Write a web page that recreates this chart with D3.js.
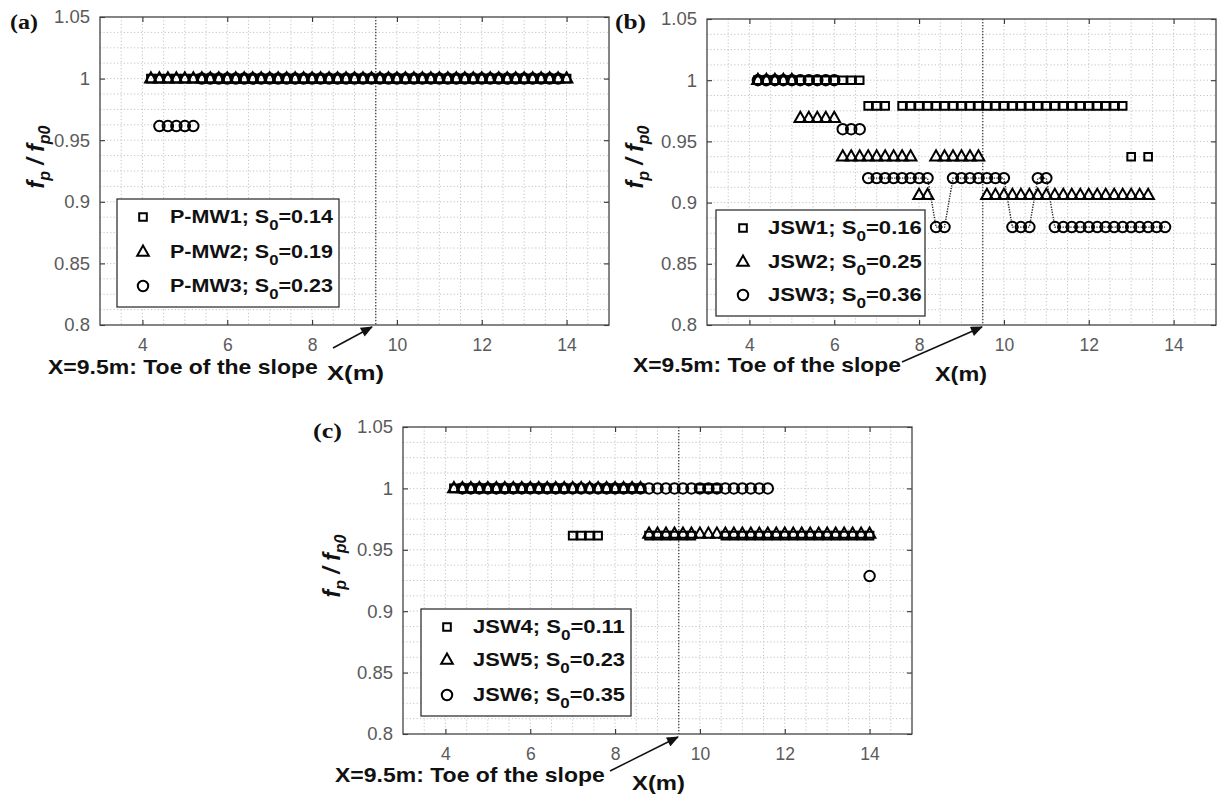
<!DOCTYPE html>
<html><head><meta charset="utf-8">
<script src="https://cdn.jsdelivr.net/npm/d3@7"></script>
<style>body{margin:0;background:#fff}svg text{font-family:"Liberation Sans",Arial,sans-serif}</style>
</head><body><svg id="c" width="1221" height="798"></svg>
<script>
// ---------- shared axis data ----------
const xTicks=[4,6,8,10,12,14];
const xTickLabels=["4","6","8","10","12","14"];
const yTicks=[0.8,0.85,0.9,0.95,1,1.05];
const yTickLabels=["0.8","0.85","0.9","0.95","1","1.05"];
const xDomain=[3,15];
const yDomain=[0.8,1.05];
const toeX=9.5;
const toeText="X=9.5m: Toe of the slope";
const xLabel="X(m)";

// ---------- panel (a) ----------
const pmw1X=[4.2,4.4,4.6,4.8,5,5.2,5.4,5.6,5.8,6,6.2,6.4,6.6,6.8,7,7.2,7.4,7.6,7.8,8,8.2,8.4,8.6,8.8,9,9.2,9.4,9.6,9.8,10,10.2,10.4,10.6,10.8,11,11.2,11.4,11.6,11.8,12,12.2,12.4,12.6,12.8,13,13.2,13.4,13.6,13.8,14];
const pmw1Y=[1,1,1,1,1,1,1,1,1,1,1,1,1,1,1,1,1,1,1,1,1,1,1,1,1,1,1,1,1,1,1,1,1,1,1,1,1,1,1,1,1,1,1,1,1,1,1,1,1,1];
const pmw2X=[4.2,4.4,4.6,4.8,5,5.2,5.4,5.6,5.8,6,6.2,6.4,6.6,6.8,7,7.2,7.4,7.6,7.8,8,8.2,8.4,8.6,8.8,9,9.2,9.4,9.6,9.8,10,10.2,10.4,10.6,10.8,11,11.2,11.4,11.6,11.8,12,12.2,12.4,12.6,12.8,13,13.2,13.4,13.6,13.8,14];
const pmw2Y=[1,1,1,1,1,1,1,1,1,1,1,1,1,1,1,1,1,1,1,1,1,1,1,1,1,1,1,1,1,1,1,1,1,1,1,1,1,1,1,1,1,1,1,1,1,1,1,1,1,1];
const pmw3X=[4.4,4.6,4.8,5,5.2,5.4,5.6,5.8,6,6.2,6.4,6.6,6.8,7,7.2,7.4,7.6,7.8,8,8.2,8.4,8.6,8.8,9,9.2,9.4,9.6,9.8,10,10.2,10.4,10.6,10.8,11,11.2,11.4,11.6,11.8,12,12.2,12.4,12.6,12.8,13,13.2,13.4,13.6,13.8];
const pmw3Y=[0.9615,0.9615,0.9615,0.9615,0.9615,1,1,1,1,1,1,1,1,1,1,1,1,1,1,1,1,1,1,1,1,1,1,1,1,1,1,1,1,1,1,1,1,1,1,1,1,1,1,1,1,1,1,1];
const namesA=["P-MW1","P-MW2","P-MW3"];
const s0A=["0.14","0.19","0.23"];

// ---------- panel (b) ----------
const jsw1X=[4.2,4.4,4.6,4.8,5,5.2,5.4,5.6,5.8,6,6.2,6.4,6.6,6.8,7,7.2,7.6,7.8,8,8.2,8.4,8.6,8.8,9,9.2,9.4,9.6,9.8,10,10.2,10.4,10.6,10.8,11,11.2,11.4,11.6,11.8,12,12.2,12.4,12.6,12.8,13,13.4];
const jsw1Y=[1,1,1,1,1,1,1,1,1,1,1,1,1,0.979,0.979,0.979,0.979,0.979,0.979,0.979,0.979,0.979,0.979,0.979,0.979,0.979,0.979,0.979,0.979,0.979,0.979,0.979,0.979,0.979,0.979,0.979,0.979,0.979,0.979,0.979,0.979,0.979,0.979,0.9375,0.9375];
const jsw2X=[4.2,4.4,4.6,4.8,5,5.2,5.4,5.6,5.8,6,6.2,6.4,6.6,6.8,7,7.2,7.4,7.6,7.8,8,8.2,8.4,8.6,8.8,9,9.2,9.4,9.6,9.8,10,10.2,10.4,10.6,10.8,11,11.2,11.4,11.6,11.8,12,12.2,12.4,12.6,12.8,13,13.2,13.4];
const jsw2Y=[1,1,1,1,1,0.969,0.969,0.969,0.969,0.969,0.9375,0.9375,0.9375,0.9375,0.9375,0.9375,0.9375,0.9375,0.9375,0.906,0.906,0.9375,0.9375,0.9375,0.9375,0.9375,0.9375,0.906,0.906,0.906,0.906,0.906,0.906,0.906,0.906,0.906,0.906,0.906,0.906,0.906,0.906,0.906,0.906,0.906,0.906,0.906,0.906];
const jsw3X=[4.2,4.4,4.6,4.8,5,5.2,5.4,5.6,5.8,6,6.2,6.4,6.6,6.8,7,7.2,7.4,7.6,7.8,8,8.2,8.4,8.6,8.8,9,9.2,9.4,9.6,9.8,10,10.2,10.4,10.6,10.8,11,11.2,11.4,11.6,11.8,12,12.2,12.4,12.6,12.8,13,13.2,13.4,13.6,13.8];
const jsw3Y=[1,1,1,1,1,1,1,1,1,1,0.96,0.96,0.96,0.92,0.92,0.92,0.92,0.92,0.92,0.92,0.92,0.88,0.88,0.92,0.92,0.92,0.92,0.92,0.92,0.92,0.88,0.88,0.88,0.92,0.92,0.88,0.88,0.88,0.88,0.88,0.88,0.88,0.88,0.88,0.88,0.88,0.88,0.88,0.88];
const jsw3LineFromX=6.8;
const namesB=["JSW1","JSW2","JSW3"];
const s0B=["0.16","0.25","0.36"];

// ---------- panel (c) ----------
const jsw4X=[4.2,4.4,4.6,4.8,5,5.2,5.4,5.6,5.8,6,6.2,6.4,6.6,6.8,7,7.2,7.4,7.6,7.8,8,8.2,8.4,8.6,8.8,9,9.2,9.4,9.6,9.8,10,10.2,10.4,10.6,10.8,11,11.2,11.4,11.6,11.8,12,12.2,12.4,12.6,12.8,13,13.2,13.4,13.6,13.8,14];
const jsw4Y=[1,1,1,1,1,1,1,1,1,1,1,1,1,1,0.9615,0.9615,0.9615,0.9615,1,1,1,1,1,0.9615,0.9615,0.9615,0.9615,0.9615,0.9615,1,1,1,0.9615,0.9615,0.9615,0.9615,0.9615,0.9615,0.9615,0.9615,0.9615,0.9615,0.9615,0.9615,0.9615,0.9615,0.9615,0.9615,0.9615,0.9615];
const jsw5X=[4.2,4.4,4.6,4.8,5,5.2,5.4,5.6,5.8,6,6.2,6.4,6.6,6.8,7,7.2,7.4,7.6,7.8,8,8.2,8.4,8.6,8.8,9,9.2,9.4,9.6,9.8,10,10.2,10.4,10.6,10.8,11,11.2,11.4,11.6,11.8,12,12.2,12.4,12.6,12.8,13,13.2,13.4,13.6,13.8,14];
const jsw5Y=[1,1,1,1,1,1,1,1,1,1,1,1,1,1,1,1,1,1,1,1,1,1,1,0.963,0.963,0.963,0.963,0.963,0.963,0.963,0.963,0.963,0.963,0.963,0.963,0.963,0.963,0.963,0.963,0.963,0.963,0.963,0.963,0.963,0.963,0.963,0.963,0.963,0.963,0.963];
const jsw6X=[4.4,4.6,4.8,5,5.2,5.4,5.6,5.8,6,6.2,6.4,6.6,6.8,7,7.2,7.4,7.6,7.8,8,8.2,8.4,8.6,8.8,9,9.2,9.4,9.6,9.8,10,10.2,10.4,10.6,10.8,11,11.2,11.4,11.6,14];
const jsw6Y=[1,1,1,1,1,1,1,1,1,1,1,1,1,1,1,1,1,1,1,1,1,1,1,1,1,1,1,1,1,1,1,1,1,1,1,1,1,0.9286];
const namesC=["JSW4","JSW5","JSW6"];
const s0C=["0.11","0.23","0.35"];

// ---------- layout ----------
const panels=[
 {tag:"(a)",tagX:10,tagY:29,tagW:28,L:100,R:609,T:17,B:325,
  series:[{x:pmw1X,y:pmw1Y,shape:"s"},{x:pmw2X,y:pmw2Y,shape:"t"},{x:pmw3X,y:pmw3Y,shape:"o"}],
  names:namesA,s0:s0A,leg:{x0:117,y0:199,x1:339,y1:307,mx:143,tx:170,tw:163,rows:[217,252,286]},
  ylab:{x:36,y:157},toe:{x:48,y:374,w:270},xl:{x:327,y:380,w:57},arrow:[333,348,372,327]},
 {tag:"(b)",tagX:615,tagY:29,tagW:31,L:707,R:1216,T:19,B:325,
  series:[{x:jsw1X,y:jsw1Y,shape:"s"},{x:jsw2X,y:jsw2Y,shape:"t"},{x:jsw3X,y:jsw3Y,shape:"o",lineFrom:jsw3LineFromX}],
  names:namesB,s0:s0B,leg:{x0:716,y0:210,x1:925,y1:316,mx:743,tx:768,tw:154,rows:[228,262,295]},
  ylab:{x:635,y:157},toe:{x:633,y:372,w:268},xl:{x:935,y:381,w:52},arrow:[902,362,982,327]},
 {tag:"(c)",tagX:313,tagY:438,tagW:29,L:403,R:912,T:427,B:734,
  series:[{x:jsw4X,y:jsw4Y,shape:"s"},{x:jsw5X,y:jsw5Y,shape:"t"},{x:jsw6X,y:jsw6Y,shape:"o"}],
  names:namesC,s0:s0C,leg:{x0:421,y0:609,x1:631,y1:716,mx:447,tx:473,tw:152,rows:[627,660,695]},
  ylab:{x:332,y:566},toe:{x:335,y:782,w:270},xl:{x:632,y:790,w:53},arrow:[610,771,678,737]}
];

const svg=d3.select("#c");
svg.append("rect").attr("width",1221).attr("height",798).attr("fill","#fff");
const defs=svg.append("defs");
defs.append("marker").attr("id","ah").attr("viewBox","0 0 12 10").attr("refX",11).attr("refY",5)
 .attr("markerWidth",13).attr("markerHeight",10).attr("markerUnits","userSpaceOnUse").attr("orient","auto")
 .append("path").attr("d","M0,0 L12,5 L0,10 z").attr("fill","#111");

function fitText(parent,x,y,target,build,anchor){
  const g=parent.append("g");
  const t=g.append("text");
  build(t);
  const bb=t.node().getBBox();
  const s=target?target/bb.width:1;
  let dx=-bb.x*s;
  if(anchor==="middle")dx-=bb.width*s/2;
  if(anchor==="end")dx-=bb.width*s;
  g.attr("transform",`translate(${x+dx},${y}) scale(${s},1)`);
  return g;
}

function markerPath(shape){
  if(shape==="s")return d3.symbol().type(d3.symbolSquare).size(58)();
  if(shape==="t")return "M0,-6.4L5.8,3.8L-5.8,3.8Z";
  return d3.symbol().type(d3.symbolCircle).size(86)();
}

panels.forEach(p=>{
  const g=svg.append("g");
  const xs=d3.scaleLinear().domain(xDomain).range([p.L,p.R]);
  const ys=d3.scaleLinear().domain(yDomain).range([p.B,p.T]);
  // grid (every 0.5 in x, every 0.0125 in y)
  const gx=d3.range(7,30).map(v=>v/2);
  const gy=d3.range(65,84).map(v=>v*0.0125);
  g.append("g").selectAll("line").data(gx).join("line")
   .attr("x1",d=>xs(d)).attr("x2",d=>xs(d)).attr("y1",p.T).attr("y2",p.B)
   .attr("stroke","#c4c4c4").attr("stroke-width",1).attr("stroke-dasharray","1.2,2.2");
  g.append("g").selectAll("line").data(gy).join("line")
   .attr("y1",d=>ys(d)).attr("y2",d=>ys(d)).attr("x1",p.L).attr("x2",p.R)
   .attr("stroke","#c4c4c4").attr("stroke-width",1).attr("stroke-dasharray","1.2,2.2");
  // toe line
  g.append("line").attr("x1",xs(toeX)).attr("x2",xs(toeX)).attr("y1",p.T).attr("y2",p.B)
   .attr("stroke","#555").attr("stroke-width",1.5).attr("stroke-dasharray","1.3,1.7");
  // axes
  const axB=d3.axisBottom(xs).tickValues(xTicks).tickSize(-5).tickPadding(14).tickFormat((d,i)=>xTickLabels[i]);
  const axL=d3.axisLeft(ys).tickValues(yTicks).tickSize(-5).tickPadding(10).tickFormat((d,i)=>yTickLabels[i]);
  const axT=d3.axisTop(xs).tickValues(xTicks).tickSize(-5).tickFormat("");
  const axR=d3.axisRight(ys).tickValues(yTicks).tickSize(-5).tickFormat("");
  [[axB,`translate(0,${p.B})`,"17.5px"],[axL,`translate(${p.L},0)`,"18.5px"],[axT,`translate(0,${p.T})`,"10px"],[axR,`translate(${p.R},0)`,"10px"]].forEach(([a,tr,fs])=>{
    const ag=g.append("g").attr("transform",tr).call(a);
    ag.select(".domain").remove();
    ag.selectAll(".tick line").attr("stroke","#333").attr("stroke-width",1.1);
    ag.selectAll("text").attr("fill","#5a5a5a").style("font-family",'"Liberation Sans",Arial,sans-serif').style("font-size",fs);
  });
  g.append("rect").attr("x",p.L).attr("y",p.T).attr("width",p.R-p.L).attr("height",p.B-p.T)
   .attr("fill","none").attr("stroke","#444").attr("stroke-width",1.3);
  // data
  p.series.forEach(s=>{
    const pts=s.x.map((v,i)=>({x:v,y:s.y[i]}));
    if(s.lineFrom!==undefined){
      const lp=pts.filter(d=>d.x>=s.lineFrom);
      g.append("path").attr("d",d3.line().x(d=>xs(d.x)).y(d=>ys(d.y))(lp))
       .attr("fill","none").attr("stroke","#222").attr("stroke-width",1.4).attr("stroke-dasharray","1.3,1.3");
    }
    g.append("g").selectAll("path").data(pts).join("path")
     .attr("d",markerPath(s.shape)).attr("transform",d=>`translate(${xs(d.x)},${ys(d.y)})`)
     .attr("fill","none").attr("stroke","#000").attr("stroke-width",2);
  });
  // legend
  const lg=g.append("g");
  lg.append("rect").attr("x",p.leg.x0).attr("y",p.leg.y0).attr("width",p.leg.x1-p.leg.x0).attr("height",p.leg.y1-p.leg.y0)
   .attr("fill","#fff").attr("stroke","#333").attr("stroke-width",1.3);
  p.series.forEach((s,i)=>{
    const cy=p.leg.rows[i];
    lg.append("path").attr("d",markerPath(s.shape)).attr("transform",`translate(${p.leg.mx},${cy})`)
      .attr("fill","none").attr("stroke","#000").attr("stroke-width",2);
    fitText(lg,p.leg.tx,cy+6,p.leg.tw,t=>{
      t.style("font-weight","bold").style("font-size","18px").attr("fill","#111");
      t.append("tspan").text(p.names[i]+"; S");
      t.append("tspan").attr("dy",7).style("font-size","14px").text("0");
      t.append("tspan").attr("dy",-7).text("="+p.s0[i]);
    });
  });
  // panel tag
  fitText(g,p.tagX,p.tagY,p.tagW,t=>{
    t.style("font-family",'"Liberation Serif","Times New Roman",serif').style("font-weight","bold").style("font-size","21px").attr("fill","#111").text(p.tag);
  });
  // y label
  const yl=g.append("g").attr("transform",`translate(${p.ylab.x},${p.ylab.y}) rotate(-90)`);
  const yt=yl.append("text").attr("text-anchor","middle").attr("dy","0.35em")
    .style("font-weight","bold").style("font-style","italic").style("font-size","23px").attr("fill","#111");
  yt.append("tspan").text("f");
  yt.append("tspan").attr("dy",6).style("font-size","16px").text("p");
  yt.append("tspan").attr("dy",-6).text(" / f");
  yt.append("tspan").attr("dy",6).style("font-size","16px").text("p0");
  // toe text + X label + arrow
  fitText(g,p.toe.x,p.toe.y,p.toe.w,t=>{
    t.style("font-weight","bold").style("font-size","20px").attr("fill","#111").text(toeText);
  });
  fitText(g,p.xl.x,p.xl.y,p.xl.w,t=>{
    t.style("font-weight","bold").style("font-size","21px").attr("fill","#111").text(xLabel);
  });
  g.append("line").attr("x1",p.arrow[0]).attr("y1",p.arrow[1]).attr("x2",p.arrow[2]).attr("y2",p.arrow[3])
   .attr("stroke","#111").attr("stroke-width",1.5).attr("marker-end","url(#ah)");
});
</script></body></html>
